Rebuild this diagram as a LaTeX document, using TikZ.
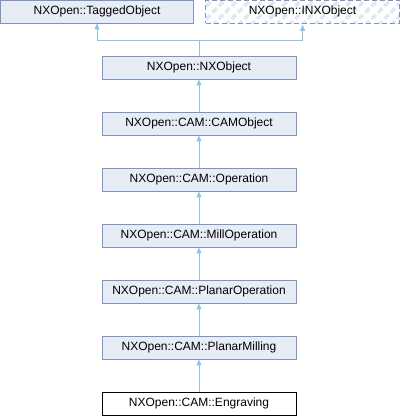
\documentclass[tikz,border=0pt]{standalone}
\usepackage{fontspec}
\setmainfont{Liberation Sans}
\usetikzlibrary{arrows.meta,patterns.meta}
\definecolor{boxfill}{HTML}{E8ECF5}
\definecolor{boxline}{HTML}{7C93C6}
\definecolor{edgecol}{HTML}{8CC4E4}
\definecolor{hatch}{HTML}{E2E8F2}
\tikzset{
  cls/.style={draw=boxline, fill=boxfill, line width=0.9pt, minimum height=23pt, inner sep=0pt, font=\fontsize{12}{14}\selectfont},
  cur/.style={draw=black, fill=white, line width=0.9pt, minimum height=23pt, inner sep=0pt, font=\fontsize{12}{14}\selectfont},
  iface/.style={draw=boxline, dashed, dash pattern=on 5pt off 3pt, line width=0.9pt, minimum height=23pt, inner sep=0pt,
    pattern={Lines[angle=45,distance=9pt,line width=3.5pt]}, pattern color=hatch, font=\fontsize{12}{14}\selectfont},
  edge/.style={draw=edgecol, line width=0.9pt, -{Triangle[width=5pt,length=6pt]}},
}
\begin{document}
\begin{tikzpicture}[x=1pt,y=-1pt]
\useasboundingbox (0,0) rectangle (400,416);
\node[cls, minimum width=193pt] (tagged) at (97,11.5) {NXOpen::TaggedObject};
\node[iface, minimum width=194pt] (inx) at (302.5,11.5) {NXOpen::INXObject};
\node[cls, minimum width=194pt] (nx) at (199,67.5) {NXOpen::NXObject};
\node[cls, minimum width=194pt] (cam) at (199,123.5) {NXOpen::CAM::CAMObject};
\node[cls, minimum width=194pt] (op) at (199,179.5) {NXOpen::CAM::Operation};
\node[cls, minimum width=194pt] (mill) at (199,235.5) {NXOpen::CAM::MillOperation};
\node[cls, minimum width=194pt] (planop) at (199,291.5) {NXOpen::CAM::PlanarOperation};
\node[cls, minimum width=194pt] (planmill) at (199,347.5) {NXOpen::CAM::PlanarMilling};
\node[cur, minimum width=194pt] (engr) at (199,403.5) {NXOpen::CAM::Engraving};
\draw[edge] (nx.north) -- ++(0,-15) -| (tagged.south);
\draw[edge] (nx.north) -- ++(0,-15) -| (inx.south);
\draw[edge] (cam) -- (nx);
\draw[edge] (op) -- (cam);
\draw[edge] (mill) -- (op);
\draw[edge] (planop) -- (mill);
\draw[edge] (planmill) -- (planop);
\draw[edge] (engr) -- (planmill);
\end{tikzpicture}
\end{document}
